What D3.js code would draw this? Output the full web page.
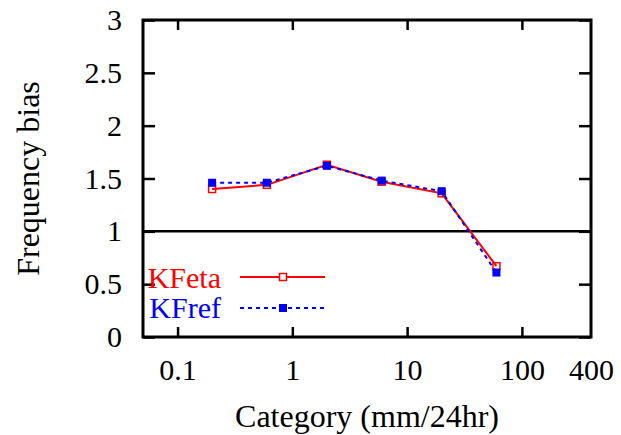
<!DOCTYPE html>
<html lang="en">
<head>
    <meta charset="UTF-8">
    <title>Frequency bias</title>
    <style>
        body { margin: 0; background: #fff; }
        svg { display: block; }
        svg text { font-family: "Liberation Serif", "Times New Roman", Times, "DejaVu Serif", "Noto Serif", serif !important; font-size: 30px; }
        svg text.title { font-size: 32px; }
    </style>
    <script src="https://d3js.org/d3.v7.min.js"></script>
</head>
<body>
    <div id="chart"></div>
    <script>
        const width = 621;
        const height = 435;

        // data
        const categories = [0.2, 0.6, 2, 6, 20, 60];
        const kfeta = [1.40, 1.44, 1.63, 1.47, 1.36, 0.67];
        const kfref = [1.46, 1.46, 1.62, 1.48, 1.38, 0.61];
        const xTicks = [0.1, 1, 10, 100, 400];
        const yTicks = [0, 0.5, 1, 1.5, 2, 2.5, 3];

        const margin = { top: 20, right: 30, bottom: 98, left: 143 };
        const plotW = width - margin.left - margin.right;
        const plotH = height - margin.top - margin.bottom;

        const x = d3.scaleLog().domain([0.05, 400]).range([0, plotW]);
        const y = d3.scaleLinear().domain([0, 3]).range([plotH, 0]);

        const svg = d3.select("#chart").append("svg")
            .attr("width", width)
            .attr("height", height);

        const g = svg.append("g")
            .attr("transform", `translate(${margin.left},${margin.top})`);

        // axes with inward ticks
        const fmt = d => String(d);
        const axBottom = g.append("g")
            .attr("transform", `translate(0,${plotH})`)
            .call(d3.axisBottom(x).tickValues(xTicks).tickFormat(fmt).tickSize(-10).tickPadding(22));
        const axTop = g.append("g")
            .call(d3.axisTop(x).tickValues(xTicks.slice(0, 4)).tickFormat("").tickSize(-10));
        const axLeft = g.append("g")
            .call(d3.axisLeft(y).tickValues(yTicks).tickFormat(fmt).tickSize(-12).tickPadding(21));
        const axRight = g.append("g")
            .attr("transform", `translate(${plotW},0)`)
            .call(d3.axisRight(y).tickValues(yTicks).tickFormat("").tickSize(-12));

        [axBottom, axTop, axLeft, axRight].forEach(a => {
            a.attr("font-family", null).attr("font-size", null);
            a.select(".domain").remove();
            a.selectAll(".tick line").attr("stroke", "#000").attr("stroke-width", 2.5);
            a.selectAll("text").attr("fill", "#000");
        });
        axBottom.selectAll(".tick").filter(d => d === 400).select("line").remove();

        // reference line at 1
        g.append("line")
            .attr("x1", 0).attr("x2", plotW)
            .attr("y1", y(1)).attr("y2", y(1))
            .attr("stroke", "#000").attr("stroke-width", 2.5);

        const line = d3.line().x(d => x(d[0])).y(d => y(d[1]));

        // KFeta: red solid, open squares
        const eta = categories.map((c, i) => [c, kfeta[i]]);
        g.append("path").datum(eta)
            .attr("d", line).attr("fill", "none")
            .attr("stroke", "#f00").attr("stroke-width", 2);
        g.selectAll(".eta").data(eta).enter().append("rect")
            .attr("x", d => x(d[0]) - 3.5).attr("y", d => y(d[1]) - 3.5)
            .attr("width", 7).attr("height", 7)
            .attr("fill", "none").attr("stroke", "#f00").attr("stroke-width", 1.5);

        // KFref: blue dashed, filled squares
        const ref = categories.map((c, i) => [c, kfref[i]]);
        g.append("path").datum(ref)
            .attr("d", line).attr("fill", "none")
            .attr("stroke", "#00f").attr("stroke-width", 2).attr("stroke-dasharray", "4,4");
        g.selectAll(".ref").data(ref).enter().append("rect")
            .attr("x", d => x(d[0]) - 4).attr("y", d => y(d[1]) - 4)
            .attr("width", 8).attr("height", 8)
            .attr("fill", "#00f");

        // frame
        g.append("rect")
            .attr("width", plotW).attr("height", plotH)
            .attr("fill", "none").attr("stroke", "#000").attr("stroke-width", 3);

        // legend
        const legend = [
            { name: "KFeta", color: "#f00", dash: null, open: true, ty: 288, ly: 277 },
            { name: "KFref", color: "#00f", dash: "4,4", open: false, ty: 318, ly: 308 }
        ];
        legend.forEach(l => {
            svg.append("text")
                .attr("x", 221).attr("y", l.ty)
                .attr("text-anchor", "end")
                .attr("fill", l.color)
                .text(l.name);
            svg.append("line")
                .attr("x1", 240).attr("x2", 325)
                .attr("y1", l.ly).attr("y2", l.ly)
                .attr("stroke", l.color).attr("stroke-width", 2)
                .attr("stroke-dasharray", l.dash);
            const s = l.open ? 7 : 8;
            svg.append("rect")
                .attr("x", 283 - s / 2).attr("y", l.ly - s / 2)
                .attr("width", s).attr("height", s)
                .attr("fill", l.open ? "#fff" : l.color)
                .attr("stroke", l.open ? l.color : "none")
                .attr("stroke-width", 1.5);
        });

        // axis titles
        svg.append("text")
            .attr("class", "title")
            .attr("x", margin.left + plotW / 2).attr("y", 427)
            .attr("text-anchor", "middle")
            .text("Category (mm/24hr)");
        svg.append("text")
            .attr("class", "title")
            .attr("transform", `translate(39,${margin.top + plotH / 2}) rotate(-90)`)
            .attr("text-anchor", "middle")
            .text("Frequency bias");
    </script>
</body>
</html>
